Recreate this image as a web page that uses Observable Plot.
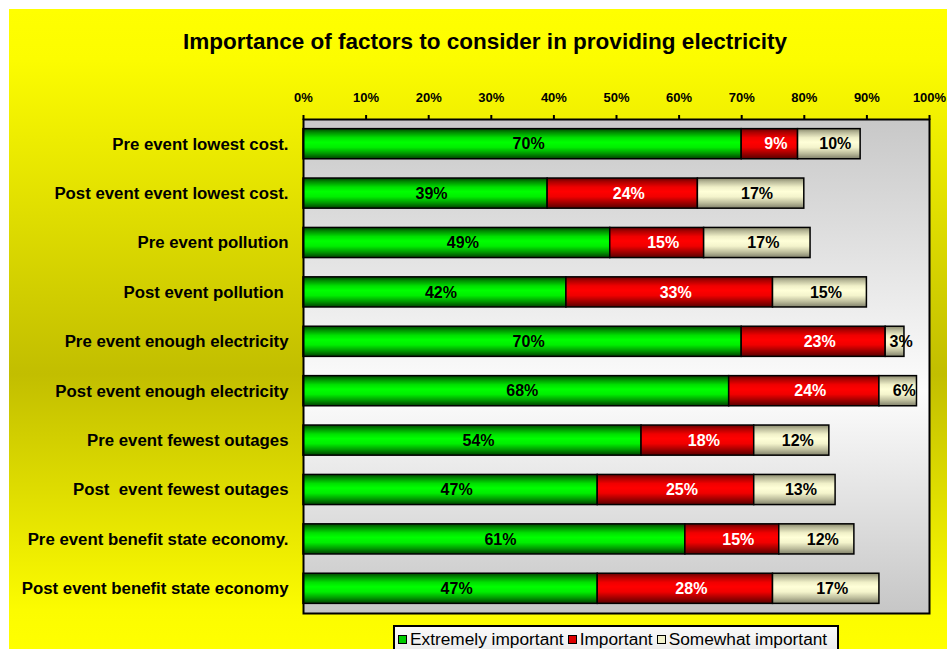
<!DOCTYPE html>
<html><head><meta charset="utf-8">
<script src="https://cdn.jsdelivr.net/npm/d3@7"></script>
<script src="https://cdn.jsdelivr.net/npm/@observablehq/plot@0.6"></script>
<style>
html,body{margin:0;padding:0;background:#fff;width:947px;height:649px;overflow:hidden;font-family:"Liberation Sans",Arial,sans-serif;}
#chart{position:absolute;left:9px;top:9px;width:938px;height:640px;overflow:hidden;
  background:linear-gradient(to bottom,#ffff00 0%,#fcfc00 8%,#c2be00 57%,#fcfc00 94%,#ffff00 100%);}
#title{position:absolute;left:476px;top:20px;transform:translateX(-50%);white-space:nowrap;font-weight:bold;font-size:22.5px;line-height:26px;color:#000;}
#plot{position:absolute;left:0;top:70px;line-height:0;}
#plot svg text{white-space:pre;}
#legend{position:absolute;left:384px;top:616px;width:446px;height:40px;border:2px solid #000;
  background:linear-gradient(to bottom,#fafafa,#e4e4e4);display:flex;align-items:flex-start;padding-left:3px;box-sizing:border-box;}
#legend .item{display:flex;align-items:center;height:24px;font-size:17.3px;line-height:24px;color:#000;margin-right:4px;white-space:nowrap;}
#legend .sw{display:inline-block;width:7px;height:7px;border:1.5px solid #000;margin-right:3px;}
</style></head><body>
<div id="chart">
  <div id="title">Importance of factors to consider in providing electricity</div>
  <div id="plot"></div>
  <div id="legend"></div>
</div>
<script>
const categories = [
  "Pre event lowest cost.",
  "Post event event lowest cost.",
  "Pre event pollution",
  "Post event pollution ",
  "Pre event enough electricity",
  "Post event enough electricity",
  "Pre event fewest outages",
  "Post  event fewest outages",
  "Pre event benefit state economy.",
  "Post event benefit state economy"
];
const levels = ["Extremely important", "Important", "Somewhat important"];
const extremely = [70, 39, 49, 42, 70, 68, 54, 47, 61, 47];
const important = [9, 24, 15, 33, 23, 24, 18, 25, 15, 28];
const somewhat  = [10, 17, 17, 15, 3, 6, 12, 13, 12, 17];
const xTicks = [0, 10, 20, 30, 40, 50, 60, 70, 80, 90, 100];
const legendColors = ["#00cc00", "#dd0000", "#f2f2cc"];

const series = [extremely, important, somewhat];
const data = [];
categories.forEach((c, i) => {
  series.forEach((arr, j) => data.push({category: c, level: levels[j], value: arr[i]}));
});

const defs = () => {
  const d = d3.create("svg:defs");
  function grad(id, stops) {
    const g = d.append("linearGradient").attr("id", id)
      .attr("x1", 0).attr("y1", 0).attr("x2", 0).attr("y2", 1);
    stops.forEach(([o, c]) => g.append("stop").attr("offset", o).attr("stop-color", c));
  }
  grad("plotBg", [[0, "#c8c8c8"], [0.55, "#fdfdfd"], [1, "#c6c6c6"]]);
  grad("gGreen", [[0, "#004400"], [0.12, "#008a00"], [0.3, "#00e000"], [0.45, "#00ff00"], [0.62, "#00ee00"], [0.82, "#009a00"], [1, "#004000"]]);
  grad("gRed", [[0, "#660000"], [0.12, "#aa0000"], [0.3, "#f00000"], [0.45, "#ff0000"], [0.62, "#f00000"], [0.82, "#a00000"], [1, "#5a0000"]]);
  grad("gCream", [[0, "#88886a"], [0.12, "#b8b898"], [0.3, "#f0f0c8"], [0.45, "#ffffd8"], [0.62, "#f4f4cc"], [0.82, "#bdbd9c"], [1, "#80806a"]]);
  return d.node();
};

const chart = Plot.plot({
  width: 938, height: 538,
  marginLeft: 294, marginRight: 18, marginTop: 40, marginBottom: 4,
  style: {background: "transparent", fontFamily: "Liberation Sans, Arial, sans-serif", color: "#000", overflow: "visible"},
  x: {domain: [0, 100]},
  y: {domain: categories, paddingInner: 0.39, paddingOuter: 0.195, round: false},
  color: {domain: levels, range: ["url(#gGreen)", "url(#gRed)", "url(#gCream)"]},
  marks: [
    defs,
    Plot.frame({fill: "url(#plotBg)"}),
    Plot.barX(data, Plot.stackX({x: "value", y: "category", fill: "level", stroke: "#000", strokeWidth: 1.5})),
    Plot.text(data, Plot.filter(d => d.level !== "Important",
      Plot.stackX({x: "value", y: "category", text: d => d.value + "%", fill: "#000", dx: 6, fontSize: 16, fontWeight: "bold"}))),
    Plot.text(data, Plot.filter(d => d.level === "Important",
      Plot.stackX({x: "value", y: "category", text: d => d.value + "%", fill: "#fff", dx: 6, fontSize: 16, fontWeight: "bold"}))),
    Plot.frame({stroke: "#000", strokeWidth: 2}),
    Plot.axisX({anchor: "top", ticks: xTicks, tickFormat: d => d + "%", tickSize: 5, tickPadding: 13, fontSize: 13, fontWeight: "bold", strokeWidth: 2, label: null}),
    Plot.axisY({tickSize: 0, tickPadding: 15, fontSize: 16.8, fontWeight: "bold", label: null})
  ]
});
document.getElementById("plot").appendChild(chart);

const legend = document.getElementById("legend");
levels.forEach((l, i) => {
  const item = document.createElement("div");
  item.className = "item";
  const sw = document.createElement("span");
  sw.className = "sw";
  sw.style.background = legendColors[i];
  const t = document.createElement("span");
  t.textContent = l;
  item.appendChild(sw);
  item.appendChild(t);
  legend.appendChild(item);
});
</script>
</body></html>
